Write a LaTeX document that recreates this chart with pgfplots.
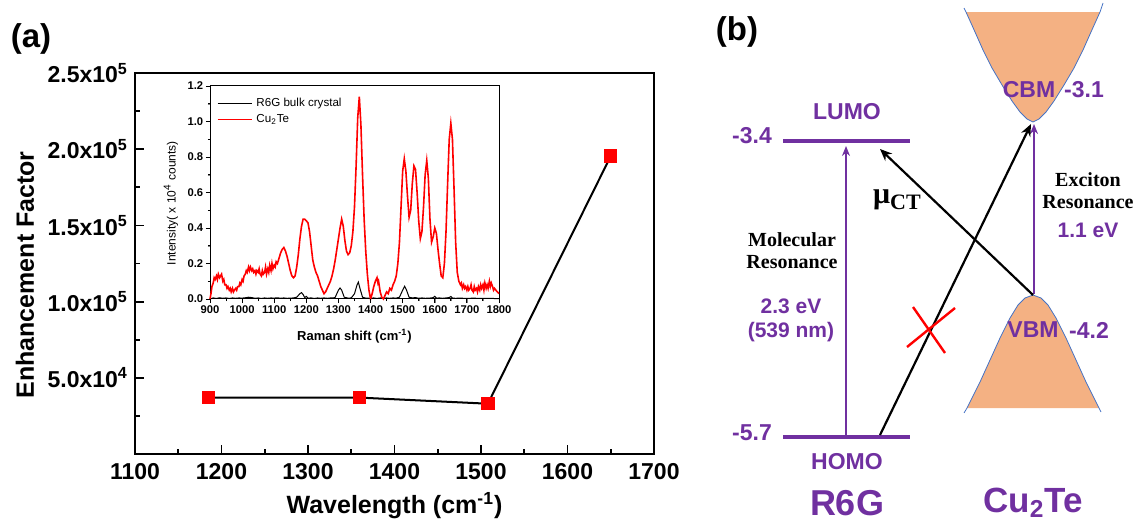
\documentclass[border=0pt]{standalone}
\usepackage{pgfplots}
\pgfplotsset{compat=1.18}
\usepackage{fontspec}
\setmainfont{Liberation Sans}
\newfontfamily\serifb{Liberation Serif}
\usetikzlibrary{arrows.meta}
\definecolor{purp}{RGB}{112,48,160}
\definecolor{bandfill}{RGB}{244,177,131}
\definecolor{bandedge}{RGB}{68,114,196}
\definecolor{mred}{RGB}{255,0,0}

\pgfplotsset{
  mainframe/.style={
    at={(67.5pt,35.5pt)}, anchor=south west,
    width=259.5pt, height=190.5pt, scale only axis,
    xmin=1100, xmax=1700, ymin=0, ymax=250000,
    xtick={1100,1200,1300,1400,1500,1600,1700},
    minor xtick={1150,1250,1350,1450,1550,1650},
    ytick={50000,100000,150000,200000,250000},
    minor ytick={25000,75000,125000,175000,225000},
    scaled y ticks=false, tick align=inside, tick pos=left,
    major tick length=4.5pt, minor tick length=2.5pt},
  insetframe/.style={
    at={(105pt,113pt)}, anchor=south west,
    width=144.5pt, height=106.5pt, scale only axis,
    xmin=900, xmax=1800, ymin=0, ymax=1.2,
    xtick={900,1000,...,1800}, ytick={0,0.2,...,1.2},
    minor x tick num=1, minor y tick num=1,
    tick align=outside, tick pos=left,
    major tick length=2.2pt, minor tick length=1.2pt},
}

\pgfplotstableread{
x y
900 0.00
903 0.03
906 0.07
910 0.09
913 0.12
916 0.11
920 0.13
923 0.11
926 0.14
930 0.12
933 0.13
936 0.14
940 0.10
943 0.11
946 0.08
950 0.08
953 0.06
956 0.07
960 0.05
963 0.06
966 0.04
970 0.06
973 0.04
976 0.05
980 0.06
983 0.05
986 0.07
990 0.07
993 0.09
996 0.08
1000 0.11
1003 0.10
1006 0.13
1010 0.14
1013 0.16
1016 0.15
1020 0.18
1023 0.16
1026 0.18
1030 0.16
1033 0.17
1036 0.15
1040 0.16
1043 0.14
1046 0.16
1050 0.15
1053 0.17
1056 0.14
1060 0.13
1063 0.16
1066 0.14
1070 0.15
1073 0.18
1076 0.14
1080 0.17
1083 0.15
1086 0.19
1090 0.16
1093 0.20
1096 0.17
1100 0.19
1103 0.18
1106 0.21
1110 0.20
1115 0.23
1120 0.26
1125 0.28
1130 0.29
1135 0.27
1140 0.24
1145 0.20
1150 0.16
1155 0.13
1160 0.12
1165 0.13
1170 0.18
1175 0.25
1180 0.34
1185 0.41
1190 0.45
1195 0.45
1200 0.44
1205 0.43
1210 0.38
1215 0.30
1220 0.22
1225 0.18
1230 0.15
1235 0.13
1240 0.10
1245 0.07
1250 0.05
1255 0.03
1260 0.04
1265 0.06
1270 0.08
1275 0.10
1280 0.13
1285 0.17
1290 0.22
1295 0.28
1300 0.34
1305 0.40
1310 0.45
1315 0.41
1320 0.33
1325 0.27
1330 0.25
1335 0.26
1340 0.30
1345 0.38
1350 0.52
1355 0.75
1360 1.02
1365 1.14
1370 0.98
1375 0.70
1380 0.45
1385 0.27
1390 0.14
1395 0.05
1400 0.00
1405 0.03
1410 0.07
1415 0.10
1420 0.12
1423 0.09
1425 0.10
1430 0.04
1435 0.01
1440 0.00
1445 0.02
1450 0.04
1455 0.03
1460 0.06
1465 0.05
1470 0.08
1475 0.10
1480 0.13
1485 0.20
1490 0.32
1495 0.52
1500 0.72
1505 0.79
1510 0.72
1515 0.58
1520 0.46
1525 0.50
1530 0.65
1535 0.75
1540 0.73
1545 0.60
1550 0.44
1555 0.34
1560 0.38
1565 0.52
1570 0.70
1575 0.78
1580 0.68
1585 0.45
1590 0.32
1595 0.35
1600 0.40
1605 0.37
1610 0.28
1615 0.20
1620 0.13
1625 0.12
1630 0.20
1635 0.38
1640 0.65
1645 0.90
1650 0.99
1655 0.90
1660 0.62
1665 0.32
1670 0.15
1675 0.10
1680 0.08
1683 0.09
1686 0.06
1690 0.08
1693 0.06
1696 0.07
1700 0.05
1703 0.07
1706 0.05
1710 0.06
1713 0.08
1716 0.05
1720 0.04
1723 0.07
1726 0.05
1730 0.06
1733 0.04
1736 0.07
1740 0.05
1743 0.08
1746 0.06
1750 0.08
1753 0.05
1756 0.09
1760 0.06
1763 0.08
1766 0.06
1770 0.10
1773 0.07
1776 0.09
1780 0.07
1783 0.05
1786 0.06
1790 0.05
1795 0.04
1800 0.03
}\cutedata

\pgfplotstableread{
x y
900 0.000
910 0.006
920 0.003
930 0.007
940 0.004
950 0.006
960 0.003
970 0.006
980 0.004
990 0.006
1000 0.005
1010 0.007
1020 0.010
1030 0.008
1040 0.004
1050 0.006
1060 0.003
1070 0.006
1080 0.004
1090 0.006
1100 0.005
1110 0.007
1120 0.004
1130 0.006
1140 0.004
1150 0.005
1160 0.006
1170 0.010
1180 0.030
1185 0.036
1190 0.025
1195 0.008
1200 0.015
1205 0.005
1215 0.006
1225 0.003
1235 0.006
1245 0.004
1255 0.006
1265 0.004
1275 0.006
1285 0.006
1290 0.010
1300 0.050
1305 0.062
1310 0.050
1318 0.010
1330 0.005
1340 0.006
1350 0.030
1358 0.080
1362 0.095
1367 0.060
1375 0.010
1385 0.005
1400 0.004
1410 0.006
1420 0.003
1430 0.006
1440 0.004
1450 0.006
1460 0.004
1470 0.006
1480 0.005
1490 0.010
1500 0.050
1506 0.072
1512 0.050
1520 0.010
1530 0.006
1540 0.008
1550 0.004
1560 0.006
1570 0.004
1580 0.005
1590 0.006
1595 0.008
1600 0.015
1605 0.005
1615 0.006
1625 0.004
1635 0.006
1645 0.008
1650 0.014
1655 0.005
1665 0.004
1680 0.005
1700 0.003
1720 0.005
1740 0.003
1760 0.004
1780 0.003
1800 0.002
}\rsixgdata

\begin{document}
\begin{tikzpicture}
\useasboundingbox (0,0) rectangle (570pt,262.5pt);

% ---------- panel (a): main axis (frame, ticks, data) ----------
\begin{axis}[
  mainframe,
  axis line style={line width=1pt},
  xticklabels={}, yticklabels={}, xticklabel=\empty, yticklabel=\empty,
  xlabel={Wavelength (cm\textsuperscript{-1})},
  ylabel={Enhancement Factor},
  label style={font=\bfseries\fontsize{12.5}{14}\selectfont},
  xlabel style={at={(axis description cs:0.5,-0.155)}, anchor=base},
  ylabel style={at={(axis description cs:-0.212,0.47)}, anchor=center},
]
% tick marks (inside), one short segment each
\pgfplotsinvokeforeach{1200,1300,1400,1500,1600}{
  \addplot[black, line width=0.9pt, forget plot] coordinates {(#1,0) (#1,5906)};}
\pgfplotsinvokeforeach{1150,1250,1350,1450,1550,1650}{
  \addplot[black, line width=0.9pt, forget plot] coordinates {(#1,0) (#1,3281)};}
\pgfplotsinvokeforeach{50000,100000,150000,200000}{
  \addplot[black, line width=0.9pt, forget plot] coordinates {(1100,#1) (1110.4,#1)};}
\pgfplotsinvokeforeach{25000,75000,125000,175000,225000}{
  \addplot[black, line width=0.9pt, forget plot] coordinates {(1100,#1) (1105.8,#1)};}
\addplot[black, line width=1pt, mark=square*, mark size=2.8pt,
  mark options={fill=mred, draw=mred}]
  coordinates {(1185,37000) (1360,37000) (1508,33000) (1650,195500)};
\end{axis}
% tick labels of the main axis
\begin{axis}[
  mainframe,
  axis line style={draw=none}, tick style={draw=none},
  xticklabels={1100,1200,1300,1400,1500,1600,1700},
  yticklabels={5.0x10\textsuperscript{4},1.0x10\textsuperscript{5},1.5x10\textsuperscript{5},2.0x10\textsuperscript{5},2.5x10\textsuperscript{5}},
  ticklabel style={font=\bfseries\fontsize{11.5}{13}\selectfont},
  xticklabel style={yshift=-1pt},
]
\addplot[draw=none] coordinates {(1100,0)};
\end{axis}

% ---------- inset (frame, ticks, data) ----------
\begin{axis}[
  insetframe, clip=false,
  axis line style={line width=0.5pt},
  xticklabels={}, yticklabels={}, xticklabel=\empty, yticklabel=\empty,
  xlabel={Raman shift (cm\textsuperscript{-1})},
  ylabel={Intensity( x 10\textsuperscript{4} counts)},
  xlabel style={font=\bfseries\fontsize{6.5}{7}\selectfont, at={(axis description cs:0.5,-0.11)}, anchor=north},
  ylabel style={font=\fontsize{6}{7}\selectfont, at={(axis description cs:-0.135,0.45)}, anchor=center},
  legend style={draw=none, fill=none, at={(0.015,0.975)}, anchor=north west,
    font=\fontsize{5.8}{6.5}\selectfont, row sep=-1.5pt, inner sep=1pt},
  legend cell align=left,
]
\addplot[black, line width=0.5pt] table[x=x,y=y] {\rsixgdata};
\addlegendentry{R6G bulk crystal}
\addplot[mred, line width=0.8pt] table[x=x,y=y] {\cutedata};
\addlegendentry{Cu\textsubscript{2}Te}
% tick marks (outside), one short segment each
\pgfplotsinvokeforeach{900,1000,1100,1200,1300,1400,1500,1600,1700,1800}{
  \addplot[black, line width=0.45pt, forget plot] coordinates {(#1,0) (#1,-0.0248)};}
\pgfplotsinvokeforeach{950,1050,1150,1250,1350,1450,1550,1650,1750}{
  \addplot[black, line width=0.45pt, forget plot] coordinates {(#1,0) (#1,-0.0135)};}
\pgfplotsinvokeforeach{0,0.2,0.4,0.6,0.8,1.0,1.2}{
  \addplot[black, line width=0.45pt, forget plot] coordinates {(900,#1) (886.3,#1)};}
\pgfplotsinvokeforeach{0.1,0.3,0.5,0.7,0.9,1.1}{
  \addplot[black, line width=0.45pt, forget plot] coordinates {(900,#1) (892.5,#1)};}
\end{axis}
% tick labels of the inset
\begin{axis}[
  insetframe,
  axis line style={draw=none}, tick style={draw=none},
  xticklabels={900,1000,1100,1200,1300,1400,1500,1600,1700,1800},
  yticklabels={0.0,0.2,0.4,0.6,0.8,1.0,1.2},
  ticklabel style={font=\bfseries\fontsize{5.6}{6}\selectfont, inner sep=1pt},
]
\addplot[draw=none] coordinates {(900,0)};
\end{axis}

% ---------- full-frame axis for panel (b) and panel letters (pixel coordinates) ----------
\begin{axis}[
  at={(0,0)}, anchor=south west,
  width=570pt, height=262.5pt, scale only axis,
  xmin=0, xmax=1140, ymin=0, ymax=525, y dir=reverse,
  hide axis, clip=false,
]
% bands
\addplot[fill=bandfill, draw=none] coordinates {
 (966,12) (975,32) (983,50) (992,68) (1002,85) (1012,101) (1020,112) (1027,119) (1033,122)
 (1039,119) (1046,112) (1054,101) (1064,85) (1074,68) (1083,50) (1091,32) (1100,12)} -- cycle;
\addplot[bandedge, line width=0.4pt] coordinates {
 (964,8) (966,12) (975,32) (983,50) (992,68) (1002,85) (1012,101) (1020,112) (1027,119) (1033,122)
 (1039,119) (1046,112) (1054,101) (1064,85) (1074,68) (1083,50) (1091,32) (1100,12) (1103,3)};
\addplot[fill=bandfill, draw=none] coordinates {
 (967,408) (980,382) (990,360) (1000,338) (1010,318) (1018,305) (1025,298) (1033,295)
 (1041,298) (1048,305) (1056,318) (1066,338) (1076,360) (1086,382) (1099,408)} -- cycle;
\addplot[bandedge, line width=0.4pt] coordinates {
 (964,413) (967,408) (980,382) (990,360) (1000,338) (1010,318) (1018,305) (1025,298) (1033,295)
 (1041,298) (1048,305) (1056,318) (1066,338) (1076,360) (1086,382) (1099,408) (1101,412)};
% levels
\addplot[purp, line width=2pt] coordinates {(783,141) (910,141)};
\addplot[purp, line width=2pt] coordinates {(783,437) (910,437)};
% purple resonance arrows
\addplot[purp, line width=0.8pt, -{Stealth[length=5pt,width=4pt]}] coordinates {(846,436) (846,146)};
\addplot[purp, line width=0.8pt, -{Stealth[length=5pt,width=4pt]}] coordinates {(1034,294) (1034,124)};
% black charge-transfer arrows
\addplot[black, line width=1.1pt, -{Stealth[length=6pt,width=5pt]}] coordinates {(880,435) (1031,124)};
\addplot[black, line width=1.1pt, -{Stealth[length=6pt,width=5pt]}] coordinates {(1033,295) (880,149)};
% red cross
\addplot[mred, line width=1.2pt] coordinates {(907,347) (955,308)};
\addplot[mred, line width=1.2pt] coordinates {(913,307) (945,353)};

% texts
\node[font=\bfseries\fontsize{16.5}{18}\selectfont] at (axis cs:31,39) {(a)};
\node[font=\bfseries\fontsize{16.5}{18}\selectfont] at (axis cs:737,32) {(b)};
\node[purp, font=\bfseries\fontsize{11.5}{13}\selectfont] at (axis cs:752,136) {-3.4};
\node[purp, font=\bfseries\fontsize{11.5}{13}\selectfont] at (axis cs:752,433) {-5.7};
\node[purp, font=\bfseries\fontsize{11.5}{13}\selectfont] at (axis cs:847,112) {LUMO};
\node[purp, font=\bfseries\fontsize{11.5}{13}\selectfont] at (axis cs:847,462) {HOMO};
\node[purp, font=\bfseries\fontsize{18}{20}\selectfont] at (axis cs:847,503) {R6G};
\node[purp, font=\bfseries\fontsize{17.5}{20}\selectfont] at (axis cs:1033,503) {Cu\textsubscript{2}Te};
\node[font=\serifb\bfseries\fontsize{10}{12}\selectfont, align=center] at (axis cs:792,251) {Molecular\\[-1pt]Resonance};
\node[purp, font=\bfseries\fontsize{10.5}{12}\selectfont, align=center] at (axis cs:791,320) {2.3 eV\\[0pt](539 nm)};
\node[font=\serifb\bfseries\fontsize{10}{12}\selectfont, align=center] at (axis cs:1088,191) {Exciton\\[-1pt]Resonance};
\node[purp, font=\bfseries\fontsize{10.5}{12}\selectfont] at (axis cs:1088,230) {1.1 eV};
\node[purp, font=\bfseries\fontsize{11.5}{13}\selectfont] at (axis cs:1029,90) {CBM};
\node[purp, font=\bfseries\fontsize{11.5}{13}\selectfont] at (axis cs:1084,90) {-3.1};
\node[purp, font=\bfseries\fontsize{11.5}{13}\selectfont] at (axis cs:1033,330) {VBM};
\node[purp, font=\bfseries\fontsize{11.5}{13}\selectfont] at (axis cs:1089,330) {-4.2};
\node[font=\serifb\bfseries] at (axis cs:897,200) {{\fontsize{15}{16}\selectfont μ}\raisebox{-3pt}{\fontsize{11}{12}\selectfont CT}};
\end{axis}
\end{tikzpicture}
\end{document}
